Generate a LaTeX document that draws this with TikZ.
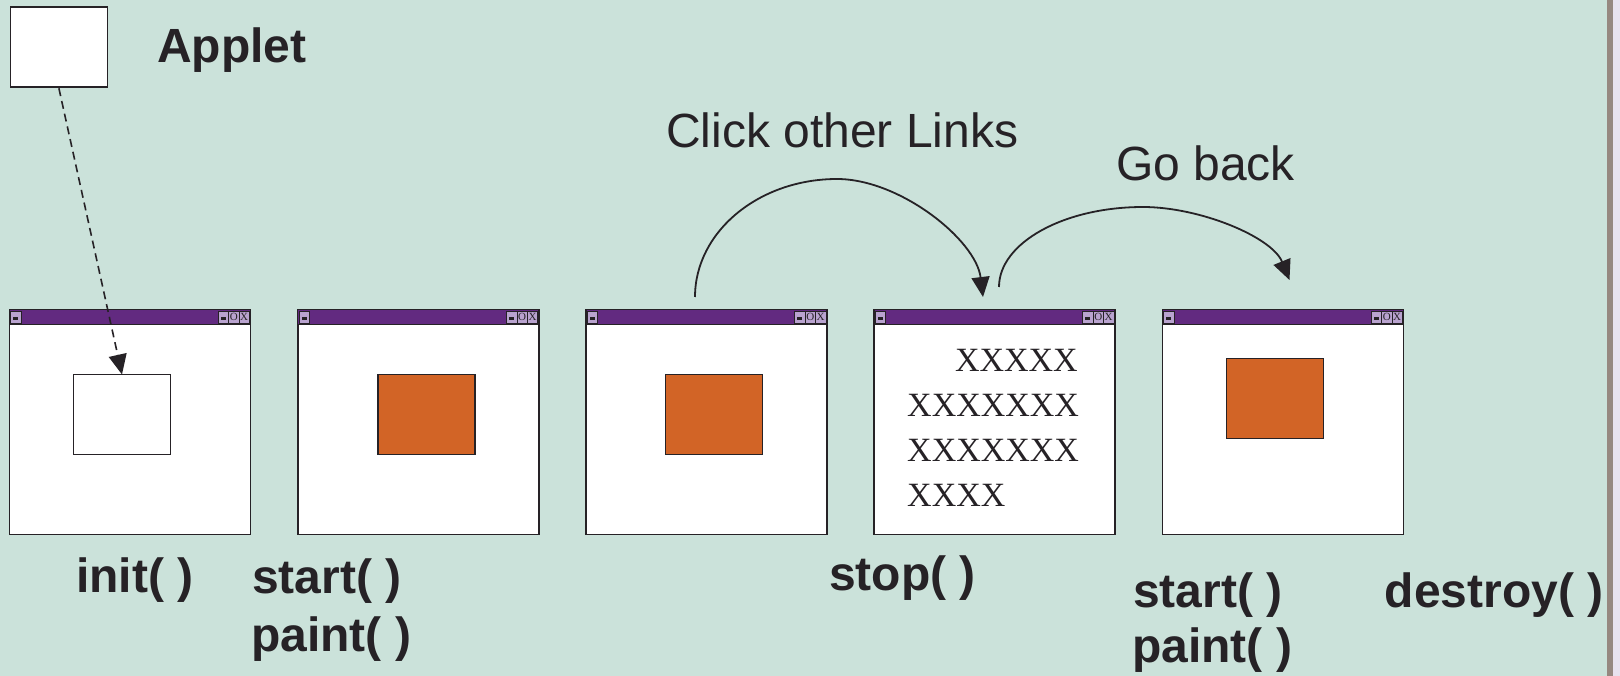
\documentclass[tikz,border=0pt]{standalone}
\usepackage{fontspec}
\setmainfont{Liberation Sans}
\newfontfamily\xfont{Liberation Serif}
\usetikzlibrary{arrows.meta}

\definecolor{bgmint}{RGB}{203,226,218}
\definecolor{titlepurple}{RGB}{98,42,128}
\definecolor{btnlilac}{RGB}{185,163,207}
\definecolor{appletorange}{RGB}{210,100,38}
\definecolor{inkdark}{RGB}{38,34,38}
\definecolor{edgegray}{RGB}{150,136,128}
\definecolor{edgelav}{RGB}{232,226,238}

\tikzset{
  winframe/.style={draw=inkdark, line width=1.4pt, fill=white, minimum width=241pt,
    minimum height=225pt, anchor=north west, inner sep=0pt, outer sep=0pt},
  titlebar/.style={fill=titlepurple, draw=inkdark, line width=1.2pt},
  btn/.style={fill=btnlilac, draw=inkdark, line width=0.6pt},
  btnglyph/.style={inner sep=0pt, font=\xfont\fontsize{11}{11}\selectfont, text=inkdark},
  pane/.style={draw=inkdark, line width=1.4pt, anchor=north west, inner sep=0pt,
    outer sep=0pt, minimum width=97pt, minimum height=80pt},
  lbl/.style={anchor=base west, inner sep=0pt, text=inkdark,
    font=\bfseries\fontsize{48}{56}\selectfont},
  caption/.style={anchor=base west, inner sep=0pt, text=inkdark,
    font=\fontsize{48}{56}\selectfont},
  xline/.style={inner sep=0pt, text=inkdark, font=\xfont\fontsize{34}{40}\selectfont},
  hop/.style={draw=inkdark, line width=1.8pt, -{Triangle[length=20pt,width=18pt]}},
  dropline/.style={draw=inkdark, line width=1.6pt, dash pattern=on 8pt off 5pt,
    -{Triangle[length=20pt,width=18pt]}},
}

% one browser window: #1 = node name, #2 = left edge
\newcommand\appwin[2]{%
  \node[winframe] (#1) at (#2,309.5) {};
  \filldraw[titlebar] (#2,309.5) rectangle ({#2+241},324.5);
  % left system button
  \filldraw[btn] ({#2+1.2},311) rectangle ({#2+11.5},323);
  \fill[inkdark] ({#2+3.8},316.8) rectangle ({#2+8.8},319.6);
  % minimise / maximise / close
  \filldraw[btn] ({#2+208.5},311) rectangle ({#2+219.2},323);
  \fill[inkdark] ({#2+211.3},316.8) rectangle ({#2+216.3},319.6);
  \filldraw[btn] ({#2+219.2},311) rectangle ({#2+229.5},323);
  \node[btnglyph] (#1o) at ({#2+224.4},317.3) {O};
  \filldraw[btn] ({#2+229.5},311) rectangle ({#2+239.8},323);
  \node[btnglyph] (#1x) at ({#2+234.7},317.3) {X};
}

\begin{document}
\begin{tikzpicture}[x=1pt,y=-1pt]
  \useasboundingbox (0,0) rectangle (1620,676);
  \fill[bgmint] (0,0) rectangle (1620,676);
  % slide edge on the right
  \fill[edgegray] (1607,0) rectangle (1613,676);
  \fill[edgelav] (1613,0) rectangle (1620,676);

  % the applet itself
  \node[draw=inkdark, line width=1.8pt, fill=white, anchor=north west, inner sep=0pt,
        minimum width=97pt, minimum height=80pt] (applet) at (9.5,6.5) {};
  \node[lbl] (appletlbl) at (157,63) {Applet};

  % the five browser windows
  \appwin{w1}{9.5}
  \appwin{w2}{297.8}
  \appwin{w3}{586}
  \appwin{w4}{874}
  \appwin{w5}{1162.5}

  % contents
  \node[pane, fill=white] (r1) at (73.5,374.5) {};
  \node[pane, fill=appletorange] (r2) at (378,374.5) {};
  \node[pane, fill=appletorange] (r3) at (665.5,374.5) {};
  \node[pane, fill=appletorange] (r5) at (1226.5,358.5) {};

  \node[xline, anchor=base east] (x1) at (1078,371) {XXXXX};
  \node[xline, anchor=base west] (x2) at (907,416.5) {XXXXXXX};
  \node[xline, anchor=base west] (x3) at (907,461.5) {XXXXXXX};
  \node[xline, anchor=base west] (x4) at (907,506) {XXXX};

  % loading the applet into the page
  \draw[dropline] (applet.south) -- (r1.north);

  % navigation arcs
  \coordinate (leave) at (695,297);
  \coordinate (away) at (983,297);
  \coordinate (back) at (999,287);
  \coordinate (return) at (1289.5,280);
  \draw[hop] (leave) .. controls (695,232) and (758.6,179) .. (837,179)
             .. controls (900,179) and (976,240) .. (away);
  \draw[hop] (back) .. controls (999,243) and (1063.5,207) .. (1143,207)
             .. controls (1200,207) and (1272,237) .. (return);

  \node[caption] (clicklbl) at (666,148) {Click other Links};
  \node[caption] (backlbl) at (1116,181) {Go back};

  % life-cycle calls
  \node[lbl] (initlbl) at (76,592) {init( )};
  \node[lbl] (startlbl) at (252,593) {start( )};
  \node[lbl] (paintlbl) at (251,651) {paint( )};
  \node[lbl] (stoplbl) at (829,590) {stop( )};
  \node[lbl] (restartlbl) at (1133,607) {start( )};
  \node[lbl] (repaintlbl) at (1132,662) {paint( )};
  \node[lbl] (destroylbl) at (1384.5,607) {destroy( )};
\end{tikzpicture}
\end{document}
